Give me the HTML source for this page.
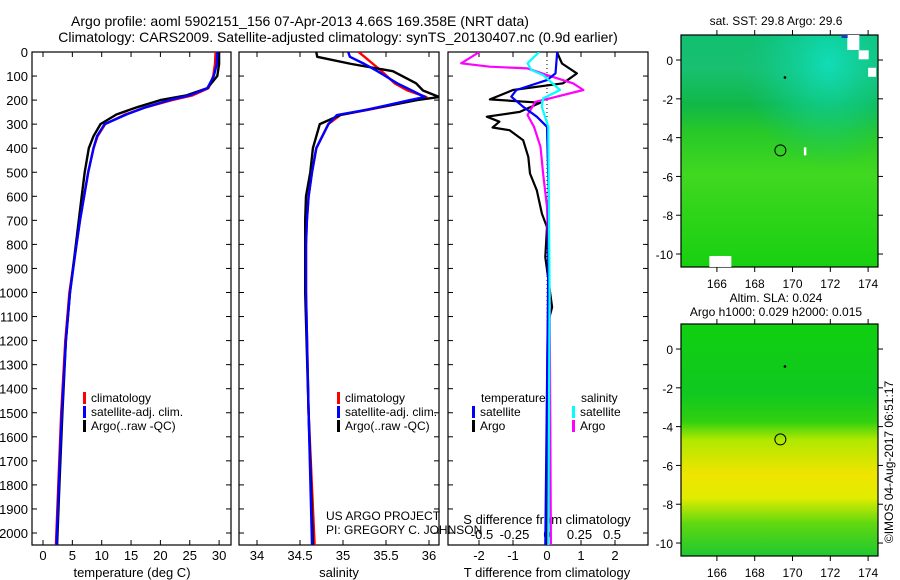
<!DOCTYPE html>
<html><head><meta charset="utf-8"><style>
body{margin:0;background:#fff;}
svg{display:block;font-family:"Liberation Sans",sans-serif;}
</style></head><body>
<svg id="c" width="900" height="580" viewBox="0 0 900 580">
<defs>
<linearGradient id="g1" x1="0" y1="0" x2="0" y2="1">
<stop offset="0" stop-color="#10c070"/><stop offset="0.15" stop-color="#18c070"/><stop offset="0.3" stop-color="#10b848"/><stop offset="0.42" stop-color="#28c828"/><stop offset="0.6" stop-color="#40d820"/><stop offset="1" stop-color="#18d010"/>
</linearGradient>
<radialGradient id="g1b" cx="0.75" cy="0.12" r="0.45">
<stop offset="0" stop-color="#10e0c0" stop-opacity="0.9"/><stop offset="0.6" stop-color="#10d0a0" stop-opacity="0.4"/><stop offset="1" stop-color="#10c080" stop-opacity="0"/>
</radialGradient>
<linearGradient id="g2" x1="0" y1="0" x2="0" y2="1">
<stop offset="0" stop-color="#10d010"/><stop offset="0.3" stop-color="#10c820"/><stop offset="0.42" stop-color="#30d010"/><stop offset="0.5" stop-color="#b0e800"/><stop offset="0.65" stop-color="#f0e400"/><stop offset="0.75" stop-color="#e0ec00"/><stop offset="0.86" stop-color="#60d810"/><stop offset="1" stop-color="#20c830"/>
</linearGradient>
</defs>
<g id="root"></g>
</svg>
<script>
// ---- data ----
const depthT = [0,50,100,150,180,200,230,260,300,350,400,500,600,700,800,1000,1200,1500,1800,2050];
const tempClim = [29.4,29.3,29.0,28.2,25.5,22,17.5,14,10.6,9.3,8.6,7.7,7.0,6.3,5.7,4.5,3.8,3.1,2.6,2.2];
const tempSat = [29.7,29.6,29.1,28,25,21.5,17.5,14.2,10.5,9.2,8.6,7.7,7.0,6.3,5.7,4.6,3.9,3.2,2.7,2.3];
const tempArgo = [30.0,30.0,29.7,28,24.5,20,16,12.5,9.8,8.6,7.8,7.1,6.6,6.1,5.6,4.6,3.9,3.3,2.8,2.4];
const depthS = [0,20,50,80,130,160,187,200,240,262,300,400,500,600,700,800,1000,1500,2050];
const salClim = [35.18,35.25,35.35,35.45,35.6,35.75,35.97,35.85,35.3,34.97,34.83,34.69,34.64,34.6,34.58,34.57,34.57,34.6,34.67];
const salSat = [35.06,35.08,35.25,35.4,35.63,35.8,35.95,35.78,35.28,34.93,34.83,34.69,34.64,34.6,34.58,34.57,34.57,34.6,34.64];
const salArgo = [34.69,34.7,35.1,35.58,35.85,35.93,36.12,35.86,35.28,34.97,34.73,34.65,34.62,34.57,34.56,34.56,34.56,34.6,34.65];
const depthDA = [0,48,89,130,158,197,211,249,269,290,314,325,367,436,505,575,672,728,853,1061,1130,1500,2050];
const dTArgo = [0.29,0.44,0.88,0.47,-1.0,-1.68,-0.2,-0.8,-1.77,-1.4,-1.6,-1.1,-0.7,-0.55,-0.5,-0.3,-0.15,0,-0.05,0.15,0.02,0,0];
const depthDS = [0,89,117,158,186,228,269,311,600,1000,2050];
const dTSat = [0.3,0.25,0,-0.9,-1.05,-0.7,-0.3,0,0.05,0.03,-0.05];
const depthDSA = [0,47,61,68,96,130,158,193,207,262,311,394,505,644,1000,2050];
const dSArgo = [-0.52,-0.66,-0.44,-0.15,0,0.2,0.28,0.02,-0.09,-0.15,-0.1,-0.05,-0.03,0,0.02,0.03];
const depthDSS = [0,47,75,96,158,193,228,311,1000,2050];
const dSSat = [-0.06,-0.15,-0.12,-0.03,0.1,-0.03,-0.04,0.01,0.02,0.01];
const depthTicks = [0,100,200,300,400,500,600,700,800,900,1000,1100,1200,1300,1400,1500,1600,1700,1800,1900,2000];
const tTicks = [0,5,10,15,20,25,30];
const sTicks = [34,34.5,35,35.5,36];
const dTTicks = [-2,-1,0,1,2];
const dSTicks = [-0.5,-0.25,0,0.25,0.5];
const dSTickLabels = ['-0.5','-0.25','0','0.25','0.5'];
const lonTicks = [166,168,170,172,174];
const latTicks = [0,-2,-4,-6,-8,-10];

// ---- scales ----
const yD = d => 52 + d*0.2405;
const xT = t => 43 + t*5.87;
const xS = s => 257 + (s-34)*86;
const xDT = v => 547 + v*34;
const xDS = v => 547 + v*130;
const NS='http://www.w3.org/2000/svg';
const root=document.getElementById('root');
function el(tag,attrs,parent){const e=document.createElementNS(NS,tag);for(const k in attrs)e.setAttribute(k,attrs[k]);(parent||root).appendChild(e);return e;}
function txt(x,y,s,anchor,size,parent){const t=el('text',{x:x,y:y,'font-size':size||12,'text-anchor':anchor||'start',fill:'#000'},parent);t.textContent=s;return t;}
function line(xs,ys,color,w,name){
  let d='';for(let i=0;i<xs.length;i++)d+=(i?'L':'M')+xs[i].toFixed(1)+' '+ys[i].toFixed(1);
  const p=el('path',{d:d,fill:'none',stroke:color,'stroke-width':w||2.2,'stroke-linejoin':'round'});
  
  
  return p;
}
function frame(x0,x1,name){
  const r=el('rect',{x:x0,y:52,width:x1-x0,height:493,fill:'none',stroke:'#000','stroke-width':1.2});
  
  
}
let t1=txt(300,26,'Argo profile: aoml 5902151_156 07-Apr-2013 4.66S 169.358E (NRT data)','middle',14);


let t2=txt(338,42,'Climatology: CARS2009. Satellite-adjusted climatology: synTS_20130407.nc (0.9d earlier)','middle',14);



frame(32,231,'temperature-panel');frame(239,439,'salinity-panel');frame(448,648,'difference-panel');
depthTicks.forEach(d=>{
  const y=yD(d);
  const l=txt(28,y+5,String(d),'end',13);
  
  
  [[32,231],[239,439],[448,648]].forEach(([a,b])=>{el('line',{x1:a,y1:y,x2:a+5,y2:y,stroke:'#000'});el('line',{x1:b,y1:y,x2:b-5,y2:y,stroke:'#000'});});
});
function xticks(vals,labels,f,ly,tickTop){
  vals.forEach((v,i)=>{const x=f(v);
    el('line',{x1:x,y1:545,x2:x,y2:540,stroke:'#000'});
    if(tickTop)el('line',{x1:x,y1:52,x2:x,y2:57,stroke:'#000'});
    const l=txt(x,ly,labels[i],'middle',13);
    
    
  });
}
xticks(tTicks,tTicks.map(String),xT,560,true);
xticks(sTicks,sTicks.map(String),xS,560,true);
xticks(dTTicks,dTTicks.map(String),xDT,560,true);
dSTicks.forEach((v,i)=>{const l=txt(xDS(v),539,dSTickLabels[i],'middle',13);
  
  });
let a1=txt(132,577,'temperature (deg C)','middle',13);
let a2=txt(339,577,'salinity','middle',13);
let a3=txt(547,577,'T difference from climatology','middle',13);
let a4=txt(547,524,'S difference from climatology','middle',13);
el('line',{x1:547,y1:52,x2:547,y2:545,stroke:'#000','stroke-dasharray':'1 3','stroke-width':1});

const clip1=el('clipPath',{id:'cp1'});el('rect',{x:32,y:52,width:199,height:493},clip1);
const clip2=el('clipPath',{id:'cp2'});el('rect',{x:239,y:52,width:200,height:493},clip2);
const clip3=el('clipPath',{id:'cp3'});el('rect',{x:448,y:52,width:200,height:493},clip3);
const g1=el('g',{'clip-path':'url(#cp1)'});
g1.appendChild(line(tempClim.map(xT),depthT.map(yD),'#f00',2.4,'temperature-climatology-line'));
g1.appendChild(line(tempArgo.map(xT),depthT.map(yD),'#000',2.4,'temperature-argo-line'));
g1.appendChild(line(tempSat.map(xT),depthT.map(yD),'#00f',2.4,'temperature-satellite-line'));
const g2=el('g',{'clip-path':'url(#cp2)'});
g2.appendChild(line(salClim.map(xS),depthS.map(yD),'#f00',2.4,'salinity-climatology-line'));
g2.appendChild(line(salArgo.map(xS),depthS.map(yD),'#000',2.4,'salinity-argo-line'));
g2.appendChild(line(salSat.map(xS),depthS.map(yD),'#00f',2.4,'salinity-satellite-line'));
const g3=el('g',{'clip-path':'url(#cp3)'});
g3.appendChild(line(dTArgo.map(xDT),depthDA.map(yD),'#000',2.2,'t-diff-argo-line'));
g3.appendChild(line(dSArgo.map(xDS),depthDSA.map(yD),'#f0f',2.2,'s-diff-argo-line'));
g3.appendChild(line(dTSat.map(xDT),depthDS.map(yD),'#00f',2.2,'t-diff-satellite-line'));
g3.appendChild(line(dSSat.map(xDS),depthDSS.map(yD),'#0ff',2.2,'s-diff-satellite-line'));

function leg(x,y,color,label,name){
  const g=el('g',{});
  el('rect',{x:x,y:y-10,width:3,height:12,fill:color},g);txt(x+8,y,label,'start',12,g);
}
[['#f00','climatology'],['#00f','satellite-adj. clim.'],['#000','Argo(..raw -QC)']].forEach((r,i)=>leg(83,402+i*14,r[0],r[1],'legend-entry-temp-'+i));
[['#f00','climatology'],['#00f','satellite-adj. clim.'],['#000','Argo(..raw -QC)']].forEach((r,i)=>leg(337,402+i*14,r[0],r[1],'legend-entry-sal-'+i));
txt(481,402,'temperature','start',12);txt(581,402,'salinity','start',12);
leg(472,416,'#00f','satellite','legend-t-satellite');leg(472,430,'#000','Argo','legend-t-argo');
leg(572,416,'#0ff','satellite','legend-s-satellite');leg(572,430,'#f0f','Argo','legend-s-argo');
txt(326,520,'US ARGO PROJECT','start',12);txt(326,534,'PI: GREGORY C. JOHNSON','start',12);

const xLon = l => 681 + (l-164.1)*18.9;
function map(top,grad,name,overlay){
  const g=el('g',{});
  const yLat = la => top + (1.29-la)*19.4;
  el('rect',{x:681,y:top,width:197,height:232,fill:'url(#'+grad+')'},g);
  if(overlay)el('rect',{x:681,y:top,width:197,height:232,fill:'url(#g1b)'},g);
  el('rect',{x:681,y:top,width:197,height:232,fill:'none',stroke:'#000','stroke-width':1.2},g);
  el('circle',{cx:xLon(169.358),cy:yLat(-4.66),r:5.5,fill:'none',stroke:'#000'},g);
  el('circle',{cx:xLon(169.6),cy:yLat(-0.9),r:1.3,fill:'#000'},g);
  latTicks.forEach(la=>{const y=yLat(la);
    el('line',{x1:681,y1:y,x2:676,y2:y,stroke:'#000'},g);el('line',{x1:878,y1:y,x2:883,y2:y,stroke:'#000'},g);
    txt(673,y+5,String(la),'end',12,g);});
  lonTicks.forEach(lo=>{const x=xLon(lo);
    el('line',{x1:x,y1:top,x2:x,y2:top-5,stroke:'#000'},g);el('line',{x1:x,y1:top+232,x2:x,y2:top+237,stroke:'#000'},g);
    txt(x,top+253,String(lo),'middle',12,g);});
  return yLat;
}
const yl1=map(35,'g1','sst-map',true);
el('rect',{x:xLon(172.9),y:yl1(1.29),width:12,height:15,fill:'#fff'});
el('rect',{x:xLon(173.5),y:yl1(0.5),width:10,height:9,fill:'#fff'});
el('rect',{x:xLon(174),y:yl1(-0.4),width:8,height:9,fill:'#fff'});
el('rect',{x:xLon(170.6),y:yl1(-4.5),width:2.5,height:8,fill:'#fff'});
el('rect',{x:xLon(165.6),y:yl1(-10.1),width:22,height:11,fill:'#fff'});
el('rect',{x:xLon(172.6),y:yl1(1.29),width:6,height:3,fill:'#1040c0'});
map(324,'g2','sla-map',false);
let s1=txt(776,25,'sat. SST: 29.8 Argo: 29.6','middle',12);
let s2=txt(776,302,'Altim. SLA: 0.024','middle',12);
let s3=txt(776,316,'Argo h1000: 0.029 h2000: 0.015','middle',12);
let cr=txt(0,0,'©IMOS 04-Aug-2017 06:51:17','middle',12);
cr.setAttribute('transform','translate(893,462) rotate(-90)');


</script>
</body></html>
